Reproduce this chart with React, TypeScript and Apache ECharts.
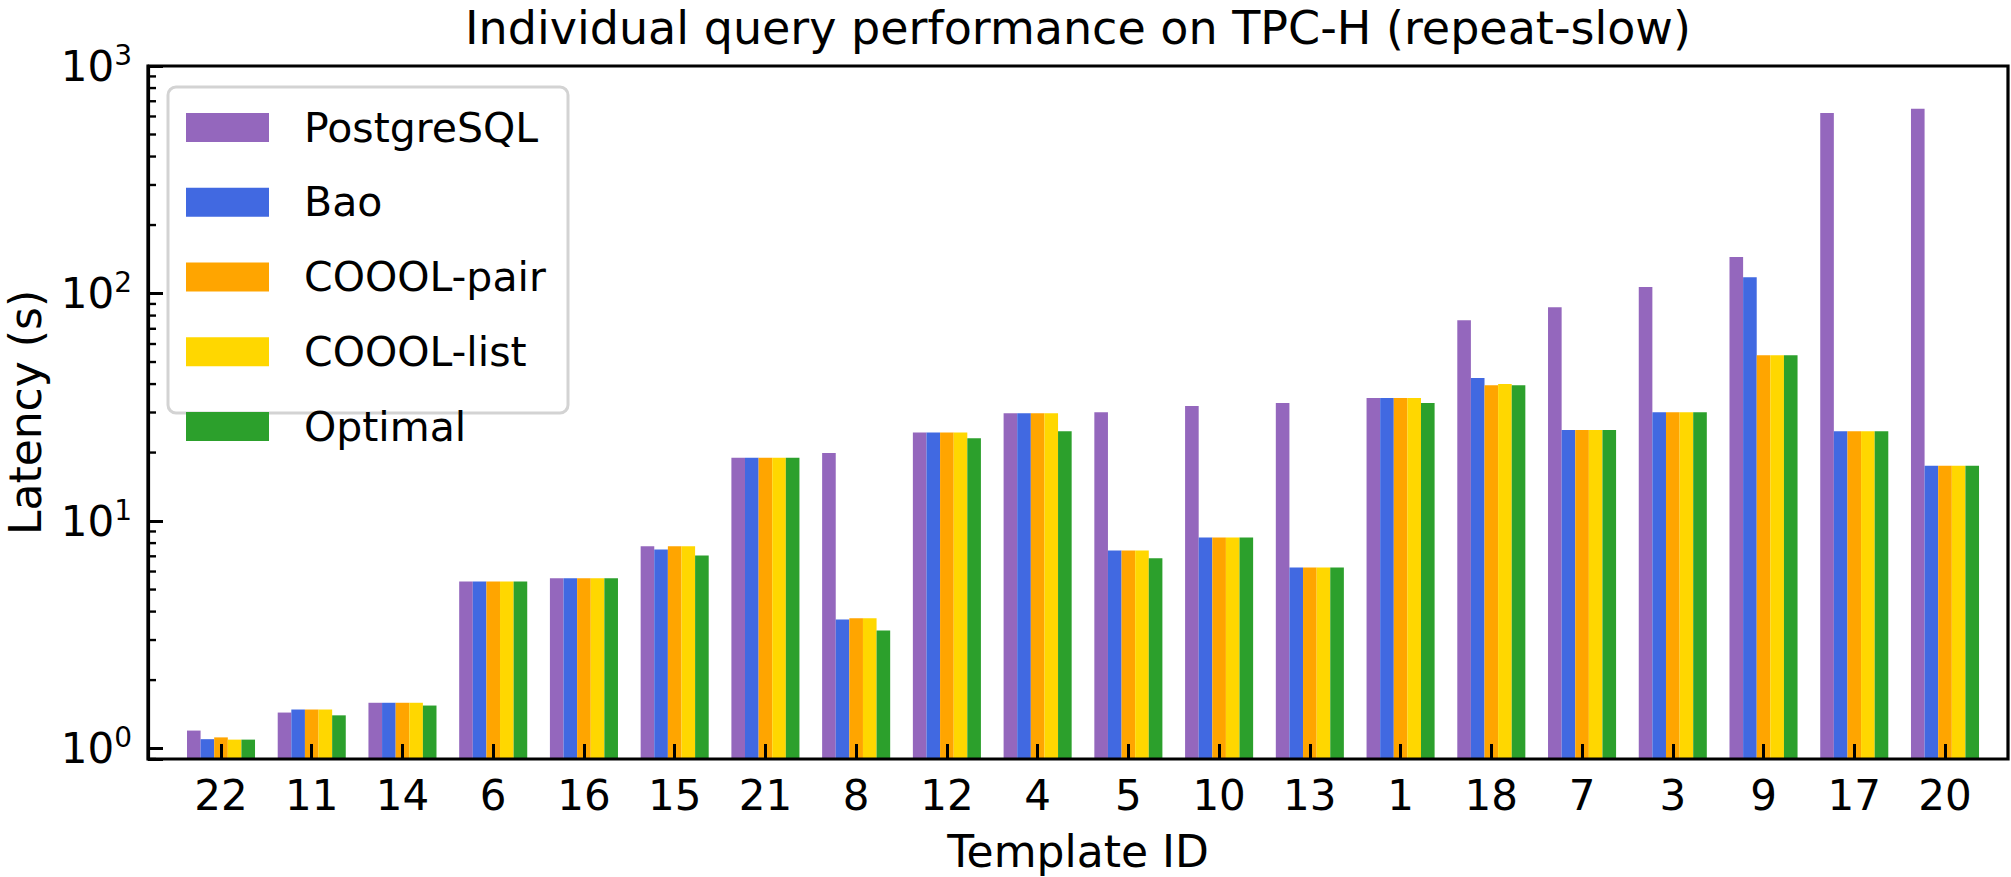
import React, { useEffect, useRef } from 'react';
import * as echarts from 'echarts';

const categories = ['22', '11', '14', '6', '16', '15', '21', '8', '12', '4', '5', '10', '13', '1', '18', '7', '3', '9', '17', '20'];
const postgresql = [1.2, 1.44, 1.59, 5.43, 5.6, 7.74, 19.0, 19.9, 24.5, 29.8, 30.1, 32.0, 33.0, 34.7, 76.4, 87.1, 106.7, 144.6, 622, 648];
const bao = [1.1, 1.485, 1.59, 5.43, 5.6, 7.5, 19.0, 3.69, 24.5, 29.8, 7.43, 8.47, 6.25, 34.7, 42.5, 25.1, 30.1, 118, 24.8, 17.5];
const cooolPair = [1.12, 1.485, 1.59, 5.43, 5.6, 7.74, 19.0, 3.74, 24.5, 29.8, 7.43, 8.47, 6.25, 34.7, 39.5, 25.1, 30.1, 53.6, 24.8, 17.5];
const cooolList = [1.095, 1.485, 1.59, 5.43, 5.6, 7.74, 19.0, 3.74, 24.5, 29.8, 7.43, 8.47, 6.25, 34.7, 40.0, 25.1, 30.1, 53.6, 24.8, 17.5];
const optimal = [1.095, 1.4, 1.546, 5.43, 5.6, 7.06, 19.0, 3.3, 23.1, 24.8, 6.86, 8.47, 6.25, 33.0, 39.5, 25.1, 30.1, 53.6, 24.8, 17.5];

const seriesNames = ['PostgreSQL', 'Bao', 'COOOL-pair', 'COOOL-list', 'Optimal'];
const seriesValues = [postgresql, bao, cooolPair, cooolList, optimal];
const seriesColors = ['#9467bd', '#4169e1', '#ffa500', '#ffd700', '#2ca02c'];
const minorTickValues = [0.9, 2, 3, 4, 5, 6, 7, 8, 9, 20, 30, 40, 50, 60, 70, 80, 90, 200, 300, 400, 500, 600, 700, 800, 900];

const titleText = 'Individual query performance on TPC-H (repeat-slow)';
const xName = 'Template ID';
const yName = 'Latency (s)';

const W = 2011;
const H = 877;
const FONT = 'DejaVu Sans';
const PLOT = { left: 148, right: 2008, top: 66, bottom: 759 };
const FIRST_C = 221;
const LAST_C = 1945;

export default function App() {
  const ref = useRef<HTMLDivElement>(null);
  useEffect(() => {
    document.body.style.margin = '0';
    if (!ref.current) return;
    const chart = echarts.init(ref.current, null, { renderer: 'svg' });
    const band = (LAST_C - FIRST_C) / (categories.length - 1);
    const gridLeft = FIRST_C - band / 2;
    const gridRight = gridLeft + band * categories.length;

    const bars = seriesNames.map((name, i) => ({
      type: 'bar',
      name,
      data: seriesValues[i],
      barWidth: band * 0.15,
      barGap: '0%',
      itemStyle: { color: seriesColors[i] },
      z: 2,
      silent: true,
    }));

    const option: any = {
      animation: false,
      backgroundColor: '#ffffff',
      textStyle: { fontFamily: FONT },
      grid: {
        left: gridLeft,
        right: W - gridRight,
        top: PLOT.top,
        bottom: H - PLOT.bottom,
        containLabel: false,
      },
      legend: {
        data: seriesNames,
        orient: 'vertical',
        left: 186,
        top: 107,
        padding: 0,
        itemWidth: 83,
        itemHeight: 29,
        itemGap: 33.75,
        icon: 'rect',
        selectedMode: false,
        z: 10,
        textStyle: {
          fontFamily: FONT,
          fontSize: 41,
          color: '#000',
          lineHeight: 29,
          padding: [0, 0, 0, 30],
        },
      },
      xAxis: {
        type: 'category',
        data: categories,
        boundaryGap: true,
        axisLine: { show: false },
        axisTick: {
          show: true,
          inside: true,
          alignWithLabel: true,
          interval: 0,
          length: 15,
          lineStyle: { color: '#000', width: 3 },
        },
        axisLabel: {
          interval: 0,
          margin: 15,
          fontSize: 42,
          color: '#000',
          fontFamily: FONT,
        },
        splitLine: { show: false },
        z: 15,
      },
      yAxis: {
        type: 'log',
        logBase: 10,
        min: 0.9,
        max: 1000,
        startValue: 0.9,
        offset: gridLeft - PLOT.left,
        axisLine: { show: true, lineStyle: { color: '#000', width: 3.2 } },
        axisTick: { show: true, inside: true, length: 15, lineStyle: { color: '#000', width: 3 } },
        splitLine: { show: false },
        minorTick: { show: false },
        axisLabel: {
          margin: 16,
          color: '#000',
          fontFamily: FONT,
          formatter: (v: number) => {
            const e = Math.round(Math.log10(v));
            if (Math.abs(Math.pow(10, e) - v) > 1e-6 * v) return '';
            return `{a|10}{b|${e}}`;
          },
          rich: {
            a: { fontSize: 42, lineHeight: 50, fontFamily: FONT, color: '#000' },
            b: { fontSize: 28, lineHeight: 28, verticalAlign: 'top', fontFamily: FONT, color: '#000' },
          },
        },
        z: 15,
      },
      series: [
        ...bars,
        {
          type: 'custom',
          name: 'minorTicks',
          silent: true,
          clip: false,
          z: 16,
          data: minorTickValues.map((v) => [0, v]),
          encode: { x: 0, y: 1 },
          renderItem: (params: any, api: any) => {
            const pt = api.coord([0, api.value(1)]);
            return {
              type: 'line',
              shape: { x1: PLOT.left, y1: pt[1], x2: PLOT.left + 8, y2: pt[1] },
              style: { stroke: '#000', lineWidth: 2.4 },
            };
          },
        },
      ],
      graphic: [
        {
          type: 'rect',
          z: 5,
          shape: { x: 168, y: 87, width: 400, height: 326, r: 8 },
          style: { fill: 'rgba(255,255,255,0.8)', stroke: '#d3d3d3', lineWidth: 3 },
        },
        {
          type: 'rect',
          z: 20,
          shape: { x: PLOT.left, y: PLOT.top, width: PLOT.right - PLOT.left, height: PLOT.bottom - PLOT.top },
          style: { fill: 'none', stroke: '#000', lineWidth: 3.2 },
        },
        {
          type: 'text',
          z: 20,
          x: (PLOT.left + PLOT.right) / 2,
          y: 28,
          style: { text: titleText, fontSize: 46, fontFamily: FONT, fill: '#000', align: 'center', verticalAlign: 'middle' },
        },
        {
          type: 'text',
          z: 20,
          x: (PLOT.left + PLOT.right) / 2,
          y: 851,
          style: { text: xName, fontSize: 44, fontFamily: FONT, fill: '#000', align: 'center', verticalAlign: 'middle' },
        },
        {
          type: 'text',
          z: 20,
          x: 25,
          y: (PLOT.top + PLOT.bottom) / 2,
          rotation: Math.PI / 2,
          style: { text: yName, fontSize: 44, fontFamily: FONT, fill: '#000', align: 'center', verticalAlign: 'middle' },
        },
      ],
    };
    chart.setOption(option);
    return () => chart.dispose();
  }, []);
  return <div ref={ref} style={{ width: W, height: H }} />;
}
